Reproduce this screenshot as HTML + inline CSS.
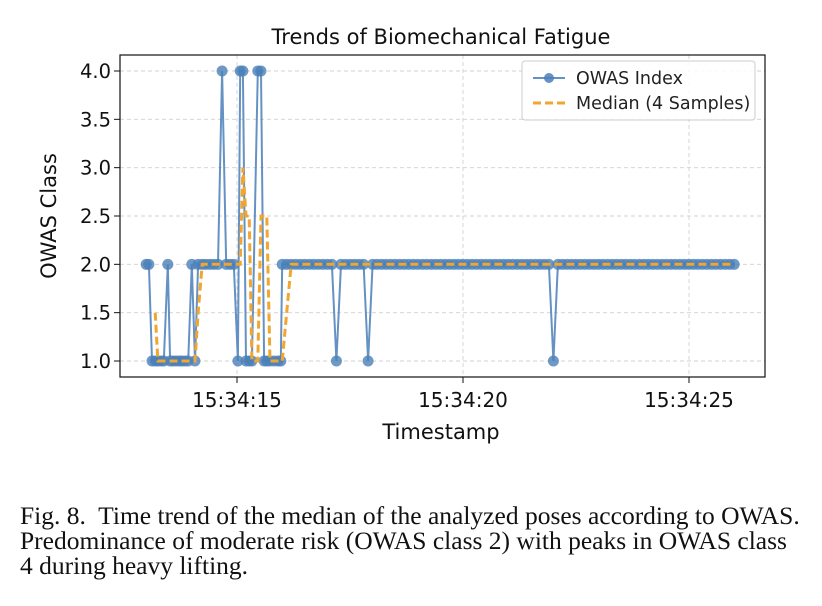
<!DOCTYPE html>
<html><head><meta charset="utf-8"><style>
body{margin:0;background:#fff;width:822px;height:606px;overflow:hidden;position:relative;font-family:"DejaVu Sans","Liberation Sans",sans-serif}
.cap{position:absolute;left:20px;font-family:"Liberation Serif",serif;font-size:25.5px;line-height:25px;color:#111;white-space:nowrap}
</style></head><body>
<svg id="chart" width="822" height="470" style="position:absolute;left:0;top:0" font-family="DejaVu Sans, Liberation Sans, sans-serif">
<text x="441" y="44" text-anchor="middle" font-size="21" fill="#111">Trends of Biomechanical Fatigue</text>
<g id="grid"></g>
<g id="marks"></g>
<rect x="120" y="55" width="645" height="322" fill="none" stroke="#111" stroke-width="1.2"/>
<g id="axes"></g>
<text transform="translate(56,216) rotate(-90)" text-anchor="middle" font-size="21" fill="#111">OWAS Class</text>
<text x="441" y="439" text-anchor="middle" font-size="21" fill="#111">Timestamp</text>
<g>
<rect x="522" y="61" width="233" height="59" rx="3" fill="#fff" fill-opacity="0.85" stroke="#ccc"/>
<line x1="533" y1="78" x2="565" y2="78" stroke="#4a7fb8" stroke-width="2" opacity="0.85"/>
<circle cx="549" cy="78" r="5" fill="#4a7fb8" opacity="0.85"/>
<text x="576" y="84" font-size="17.5" fill="#222">OWAS Index</text>
<line x1="533" y1="103" x2="565" y2="103" stroke="#f0a630" stroke-width="3" stroke-dasharray="8,4"/>
<text x="576" y="109" font-size="17.5" fill="#222">Median (4 Samples)</text>
</g>
</svg>
<div class="cap" style="top:503px">Fig. 8.&nbsp; Time trend of the median of the analyzed poses according to OWAS.</div>
<div class="cap" style="top:528px">Predominance of moderate risk (OWAS class 2) with peaks in OWAS class</div>
<div class="cap" style="top:553px">4 during heavy lifting.</div>
<script>
const times=[12.99,13.05,13.12,13.19,13.25,13.32,13.38,13.47,13.52,13.58,13.65,13.72,13.78,13.85,13.92,14.00,14.07,14.14,14.23,14.31,14.40,14.49,14.58,14.67,14.76,14.85,14.93,15.02,15.07,15.13,15.20,15.27,15.33,15.46,15.53,15.60,15.66,15.73,15.82,15.91,15.97,
16.0,16.1,16.2,16.3,16.4,16.5,16.6,16.7,16.8,16.9,17.0,17.1,17.2,17.3,17.4,17.5,17.6,17.7,17.8,17.9,18.0,18.1,18.2,18.3,18.4,18.5,18.6,18.7,18.8,18.9,19.0,19.1,19.2,19.3,19.4,19.5,19.6,19.7,19.8,19.9,20.0,20.1,20.2,20.3,20.4,20.5,20.6,20.7,20.8,20.9,21.0,21.1,21.2,21.3,21.4,21.5,21.6,21.7,21.8,21.9,22.0,22.1,22.2,22.3,22.4,22.5,22.6,22.7,22.8,22.9,23.0,23.1,23.2,23.3,23.4,23.5,23.6,23.7,23.8,23.9,24.0,24.1,24.2,24.3,24.4,24.5,24.6,24.7,24.8,24.9,25.0,25.1,25.2,25.3,25.4,25.5,25.6,25.7,25.8,25.9,26.0];
const owas=[2,2,1,1,1,1,1,2,1,1,1,1,1,1,1,2,1,2,2,2,2,2,2,4,2,2,2,1,4,4,1,1,1,4,4,1,1,1,1,1,1,
2,2,2,2,2,2,2,2,2,2,2,2,1,2,2,2,2,2,2,1,2,2,2,2,2,2,2,2,2,2,2,2,2,2,2,2,2,2,2,2,2,2,2,2,2,2,2,2,2,2,2,2,2,2,2,2,2,2,2,2,1,2,2,2,2,2,2,2,2,2,2,2,2,2,2,2,2,2,2,2,2,2,2,2,2,2,2,2,2,2,2,2,2,2,2,2,2,2,2,2,2];
const yTicks=[1.0,1.5,2.0,2.5,3.0,3.5,4.0];
const xTicks=[15,20,25];
const xTickLabels=["15:34:15","15:34:20","15:34:25"];
const X=t=>237+(t-15)*45.2, Y=v=>361-(v-1)*96.67;
const NS="http://www.w3.org/2000/svg";
function mk(tag,attrs,parent){const e=document.createElementNS(NS,tag);for(const k in attrs)e.setAttribute(k,attrs[k]);parent.appendChild(e);return e;}
const grid=document.getElementById('grid'),axes=document.getElementById('axes'),marks=document.getElementById('marks');
yTicks.forEach(v=>{
 const g=mk('line',{x1:120,x2:765,y1:Y(v),y2:Y(v),stroke:'#d0d0d0','stroke-dasharray':'4,3','stroke-width':0.9},grid);
 
 
 mk('line',{x1:114,x2:120,y1:Y(v),y2:Y(v),stroke:'#111'},axes);
 const t=mk('text',{x:111,y:Y(v)+7,'text-anchor':'end','font-size':19.5,fill:'#111'},axes);t.textContent=v.toFixed(1);
 
 
});
xTicks.forEach((s,i)=>{
 const g=mk('line',{x1:X(s),x2:X(s),y1:55,y2:377,stroke:'#d0d0d0','stroke-dasharray':'4,3','stroke-width':0.9},grid);
 
 
 mk('line',{x1:X(s),x2:X(s),y1:377,y2:383,stroke:'#111'},axes);
 const t=mk('text',{x:X(s),y:407,'text-anchor':'middle','font-size':20,fill:'#111'},axes);t.textContent=xTickLabels[i];
 
 
});
const pts=times.map((t,i)=>X(t).toFixed(1)+','+Y(owas[i]).toFixed(1)).join(' ');
const line=mk('polyline',{points:pts,fill:'none',stroke:'#4a7fb8','stroke-width':2,opacity:0.85},marks);


times.forEach((t,i)=>{
 const c=mk('circle',{cx:X(t),cy:Y(owas[i]),r:5.5,fill:'#4a7fb8',opacity:0.8},marks);
 
 
});
const med=[];
for(let i=3;i<owas.length;i++){const w=owas.slice(i-3,i+1).sort((a,b)=>a-b);med.push(X(times[i]).toFixed(1)+','+Y((w[1]+w[2])/2).toFixed(1));}
const ml=mk('polyline',{points:med.join(' '),fill:'none',stroke:'#f0a630','stroke-width':3,'stroke-dasharray':'8,4'},marks);


</script>
</body></html>
